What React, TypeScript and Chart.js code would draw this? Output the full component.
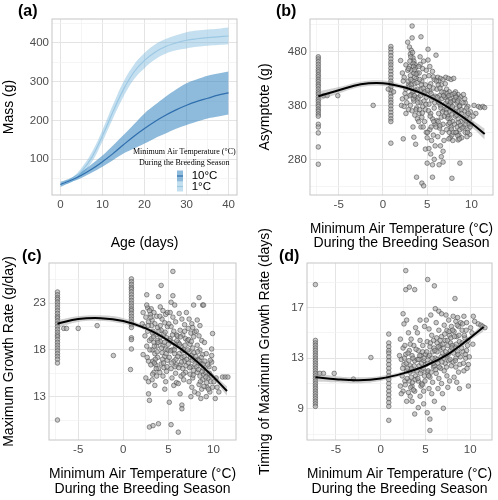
import React, { useEffect, useRef } from 'react';
import { Chart, registerables } from 'chart.js';

Chart.register(...registerables);

const SANS = '"Liberation Sans", Arial, Helvetica, sans-serif';
const SERIF = '"Liberation Serif", "Times New Roman", serif';

// ---------- Panel (a): growth curves ----------
const ageDays = [0, 2.5, 5, 7.5, 10, 12.5, 15, 17.5, 20, 22.5, 25, 27.5, 30, 32.5, 35, 37.5, 40];
const mass1C = [34, 45, 68, 105, 160, 222, 280, 325, 355, 376, 391, 400, 407, 411, 414, 416, 418];
const mass1CLo = [31, 40, 58, 92, 145, 205, 261, 306, 335, 357, 372, 381, 386, 390, 393, 395, 397];
const mass1CHi = [37, 50, 77, 118, 175, 240, 300, 344, 374, 396, 410, 420, 428, 432, 435, 437, 440];
const mass10C = [34, 45, 58, 74, 93, 114, 137, 159, 179, 197, 213, 227, 239, 249, 257, 265, 271];
const mass10CLo = [28, 40, 51, 65, 80, 97, 114, 127, 140, 154, 166, 178, 188, 197, 205, 210, 215];
const mass10CHi = [41, 51, 67, 87, 109, 135, 162, 190, 218, 240, 261, 280, 296, 306, 315, 321, 326];
const legendTitle = ['Minimum Air Temperature (\u00B0C)', 'During the Breeding Season'];
const legendLabels = ['10\u00B0C', '1\u00B0C'];

// ---------- Shared temperature info ----------
const coldSiteTemp = -7.3;
const mildSiteTemp = 0.9;
const fitTemps = [-7.3, -5, -2.5, 0, 2.5, 5, 7.5, 10, 11.5];
const tempTitle = ['Minimum Air Temperature (\u00B0C)', 'During the Breeding Season'];

// ---------- Panel (b): asymptote ----------
const asymColdSite = [470, 466, 461, 456, 451, 446, 442, 437, 433, 428, 424, 419, 415, 410, 405, 401, 396, 391, 387, 382, 378, 373, 369, 364, 360, 345, 340, 329, 303, 271];
const asymMildSite = [489, 484, 478, 472, 466, 460, 455, 449, 443, 437, 431, 425, 420, 414, 408, 402, 396, 390, 385, 379, 373, 367, 361, 355, 350, 310];
const asymOther: [number, number][] = [
  [-6.7, 398], [-6.3, 398], [-5.1, 398], [-1.1, 380], [0.6, 410], [1.2, 405],
  [2.0, 463], [2.1, 380], [2.2, 440], [2.4, 432], [2.3, 425], [2.6, 410], [2.5, 402], [2.2, 392], [2.7, 385], [2.4, 378], [2.9, 372], [2.6, 365], [2.3, 318], [2.8, 445], [2.9, 418],
  [3.3, 527], [3.3, 505], [2.8, 497], [3.0, 488], [3.2, 482], [3.1, 475], [3.4, 468], [3.5, 462], [3.6, 456], [3.7, 450], [3.2, 445], [3.5, 440], [3.1, 435], [3.8, 430], [3.3, 425], [3.6, 420], [3.0, 415], [3.9, 410], [3.4, 405], [3.2, 400], [3.7, 395], [3.5, 388], [3.1, 380], [3.8, 375], [3.3, 370], [3.6, 362], [3.9, 355], [3.4, 340], [3.5, 321], [3.7, 308], [3.8, 247], [3.0, 452], [3.4, 458], [3.6, 432], [3.2, 418], [3.9, 440],
  [4.3, 507], [4.2, 470], [4.2, 456], [4.5, 448], [4.1, 440], [4.7, 433], [4.4, 425], [4.8, 418], [4.3, 410], [4.6, 402], [4.9, 395], [4.2, 386], [4.5, 378], [4.8, 372], [4.1, 365], [4.4, 358], [4.7, 350], [4.3, 340], [4.9, 330], [5.0, 320], [4.8, 299], [5.0, 273], [4.4, 236], [4.6, 231], [4.0, 395], [4.6, 462], [4.9, 445],
  [5.1, 484], [5.1, 464], [5.3, 452], [5.6, 443], [5.2, 435], [5.8, 428], [5.4, 420], [5.7, 412], [5.3, 405], [5.9, 397], [5.5, 390], [5.2, 382], [5.8, 375], [5.4, 365], [5.6, 355], [5.9, 345], [5.3, 335], [5.7, 325], [5.5, 315], [5.9, 305], [5.4, 290], [5.8, 280], [5.6, 270], [5.6, 247], [5.2, 300], [5.7, 433],
  [6.0, 473], [6.2, 432], [6.5, 430], [6.8, 428], [6.3, 425], [6.6, 418], [6.1, 410], [6.9, 404], [6.4, 398], [6.7, 393], [6.2, 388], [6.5, 380], [6.9, 372], [6.3, 365], [6.6, 358], [6.1, 352], [6.8, 345], [6.4, 338], [6.7, 330], [6.2, 322], [6.9, 315], [6.5, 305], [6.8, 295], [6.6, 285], [6.8, 275], [6.35, 270], [6.0, 340],
  [7.1, 432], [7.4, 430], [7.7, 428], [7.2, 410], [7.5, 405], [7.8, 400], [7.3, 396], [7.6, 392], [7.9, 388], [7.1, 384], [7.4, 380], [7.7, 376], [7.2, 372], [7.5, 368], [7.8, 364], [7.3, 360], [7.6, 355], [7.9, 350], [7.4, 345], [7.7, 340], [7.2, 335], [7.5, 330], [7.8, 325], [7.6, 320], [7.9, 315], [7.8, 245], [7.0, 395], [7.3, 388], [7.6, 382],
  [8.0, 430], [8.2, 405], [8.5, 400], [8.8, 396], [8.1, 390], [8.4, 385], [8.7, 380], [8.3, 375], [8.6, 370], [8.9, 365], [8.2, 360], [8.5, 355], [8.8, 350], [8.1, 345], [8.4, 340], [8.7, 335], [8.3, 330], [8.6, 325], [8.9, 320], [8.5, 316], [8.7, 273], [8.2, 398], [8.6, 392],
  [9.1, 400], [9.3, 385], [9.6, 378], [9.2, 370], [9.5, 362], [9.8, 355], [9.4, 350], [9.7, 345], [9.1, 340], [9.6, 335], [9.3, 330], [9.8, 326], [9.5, 322],
  [10.3, 380], [10.8, 378], [11.0, 376], [11.3, 378], [11.5, 376], [9.9, 368], [10.5, 365], [10.2, 360], [10.0, 345],
  [2.6, 455], [2.9, 448], [3.05, 462], [3.15, 470], [3.35, 478], [3.45, 452], [3.55, 446], [3.75, 438], [3.85, 422], [3.25, 412], [3.65, 408], [3.05, 398], [3.45, 392], [3.95, 385], [2.85, 425], [2.65, 395], [3.15, 428], [3.55, 398], [3.75, 372],
  [4.05, 452], [4.15, 428], [4.35, 418], [4.55, 412], [4.75, 405], [4.25, 398], [4.65, 388], [4.85, 382], [4.15, 372], [4.45, 366], [4.05, 350], [4.55, 340],
  [5.05, 408], [5.25, 415], [5.45, 402], [5.65, 395], [5.85, 385], [5.15, 370], [5.35, 360], [5.75, 350], [5.45, 340], [5.05, 330],
  [6.05, 425], [6.25, 418], [6.45, 412], [6.65, 405], [6.85, 398], [6.15, 395], [6.35, 385], [6.55, 375], [6.75, 368], [6.95, 360], [6.25, 350], [6.45, 342],
  [7.05, 420], [7.25, 402], [7.45, 398], [7.65, 386], [7.85, 378], [7.15, 366], [7.35, 356], [7.55, 348], [7.75, 336], [7.95, 330], [7.45, 318],
  [8.05, 402], [8.25, 395], [8.45, 388], [8.65, 378], [8.85, 372], [8.15, 368], [8.35, 362], [8.55, 348], [8.75, 343], [8.95, 338], [8.25, 330], [8.45, 324], [8.65, 318],
  [9.05, 385], [9.25, 392], [9.45, 375], [9.65, 365], [9.85, 340], [9.15, 355], [9.35, 345], [9.55, 330],
];
const asymFit = [397, 408, 419, 421, 413, 398, 375, 347, 327];
const asymFitLo = [388, 402, 414, 416, 409, 394, 370, 340, 317];
const asymFitHi = [406, 414, 424, 426, 417, 402, 380, 354, 337];

// ---------- Panel (c): maximum growth rate ----------
const growthColdSite = [24.2, 23.9, 23.6, 23.4, 23.1, 22.8, 22.5, 22.2, 21.9, 21.6, 21.4, 21.1, 20.8, 20.5, 20.2, 19.9, 19.6, 19.4, 19.1, 18.8, 18.5, 18.2, 17.9, 17.6, 17.3, 17.0, 16.6, 10.5];
const growthMildSite = [25.6, 25.3, 25.0, 24.7, 24.5, 24.2, 23.9, 23.6, 23.3, 23.0, 22.7, 22.4, 22.2, 21.9, 21.6, 21.3, 21.0, 20.7, 20.4, 19.3, 19.1, 18.1];
const growthOther: [number, number][] = [
  [-6.6, 20.3], [-6.3, 20.3], [-5.0, 20.3], [-2.9, 20.6], [-1.1, 17.4], [0.8, 15.9],
  [2.6, 23.9], [2.2, 22.0], [2.5, 21.5], [2.8, 21.0], [2.3, 20.5], [2.7, 20.0], [2.4, 19.5], [2.9, 19.0], [2.6, 18.4], [2.2, 17.5], [2.8, 16.8], [2.5, 15.0], [2.8, 14.6], [2.8, 13.3], [2.9, 12.6], [2.9, 9.75], [2.1, 20.8], [2.7, 22.5],
  [3.3, 9.9], [3.9, 10.1], [3.9, 23.7], [3.1, 22.4], [3.4, 22.0], [3.7, 21.6], [3.2, 21.2], [3.5, 20.8], [3.8, 20.4], [3.3, 20.0], [3.6, 19.6], [3.1, 19.2], [3.4, 18.8], [3.7, 18.4], [3.2, 18.0], [3.5, 17.6], [3.8, 17.2], [3.3, 16.8], [3.6, 16.4], [3.9, 16.0], [3.4, 15.6], [3.7, 15.2], [3.2, 14.8], [3.5, 14.2], [3.0, 21.8], [3.8, 19.0],
  [4.2, 24.9], [4.1, 22.6], [4.4, 22.2], [4.7, 21.8], [4.3, 21.3], [4.6, 20.9], [4.9, 20.5], [4.2, 20.1], [4.5, 19.7], [4.8, 19.3], [4.1, 18.9], [4.4, 18.5], [4.7, 18.1], [4.3, 17.7], [4.6, 17.3], [4.9, 16.9], [4.2, 16.5], [4.5, 16.1], [4.8, 15.7], [4.4, 15.2], [4.7, 14.6], [4.6, 13.8], [4.1, 20.6], [4.9, 22.0],
  [5.5, 26.4], [5.5, 23.8], [5.3, 23.1], [5.7, 22.8], [5.1, 12.4], [5.3, 10.0], [5.2, 22.0], [5.5, 21.5], [5.8, 21.0], [5.3, 20.5], [5.6, 20.0], [5.9, 19.6], [5.2, 19.2], [5.5, 18.8], [5.8, 18.4], [5.4, 18.0], [5.7, 17.6], [5.1, 17.2], [5.6, 16.8], [5.9, 16.4], [5.3, 16.0], [5.8, 15.5], [5.6, 14.2], [5.4, 15.0], [5.9, 14.5], [5.0, 18.6],
  [6.1, 9.2], [6.3, 13.3], [6.5, 12.1], [6.5, 11.7], [6.2, 21.9], [6.5, 21.3], [6.8, 20.7], [6.3, 20.1], [6.6, 19.6], [6.9, 19.2], [6.1, 18.8], [6.4, 18.4], [6.7, 18.0], [6.2, 17.6], [6.5, 17.2], [6.8, 16.8], [6.3, 16.4], [6.6, 16.0], [6.9, 15.6], [6.4, 15.2], [6.7, 14.8], [6.1, 14.4], [6.8, 20.0], [6.0, 19.5],
  [7.8, 22.8], [7.0, 22.0], [7.3, 21.3], [7.6, 20.8], [7.2, 20.3], [7.5, 19.8], [7.8, 19.4], [7.1, 19.0], [7.4, 18.6], [7.7, 18.2], [7.3, 17.8], [7.6, 17.4], [7.9, 17.0], [7.2, 16.6], [7.5, 16.2], [7.8, 15.8], [7.4, 15.4], [7.7, 15.0], [7.3, 14.6], [7.6, 14.0], [7.9, 13.5], [7.5, 13.0], [7.9, 19.9], [7.7, 20.4],
  [8.4, 23.6], [8.8, 22.8], [8.9, 22.8], [8.2, 21.2], [8.5, 20.6], [8.1, 20.0], [8.4, 19.5], [8.7, 19.0], [8.2, 18.5], [8.5, 18.0], [8.8, 17.5], [8.3, 17.0], [8.6, 16.5], [8.9, 16.0], [8.2, 15.6], [8.5, 15.2], [8.8, 14.8], [8.4, 14.3], [8.7, 13.8], [8.3, 13.3], [8.6, 12.8], [8.9, 15.4],
  [9.9, 19.75], [9.8, 18.1], [9.8, 17.4], [9.8, 16.7], [9.2, 17.6], [9.5, 16.2], [9.1, 15.6], [9.4, 15.0], [9.7, 14.6], [9.3, 14.0], [9.6, 13.5], [10.2, 12.8], [9.2, 13.0], [9.0, 18.8],
  [11.0, 15.1], [11.3, 15.1], [11.6, 15.1], [10.3, 15.0], [10.6, 13.5], [10.1, 16.0],
  [2.6, 22.8], [2.9, 22.2], [3.05, 21.5], [3.15, 20.6], [3.25, 19.8], [3.35, 19.4], [3.45, 18.4], [3.55, 17.0], [3.65, 16.0], [3.75, 17.8], [3.85, 18.8], [3.95, 20.0], [2.75, 20.6], [2.95, 18.0], [2.65, 17.2], [3.05, 16.4], [3.25, 15.4], [3.45, 16.6],
  [4.05, 21.6], [4.15, 19.4], [4.25, 18.2], [4.35, 17.0], [4.45, 16.6], [4.55, 18.8], [4.65, 19.9], [4.75, 17.6], [4.85, 16.2], [4.95, 18.0], [4.05, 15.6],
  [5.05, 20.8], [5.15, 19.0], [5.25, 17.9], [5.35, 16.6], [5.45, 19.6], [5.65, 18.0], [5.75, 16.2], [5.85, 17.0], [5.95, 19.0],
  [6.05, 17.3], [6.15, 16.1], [6.25, 18.6], [6.35, 19.4], [6.45, 16.7], [6.55, 17.9], [6.65, 15.4], [6.75, 17.3], [6.85, 18.5], [6.95, 16.3],
  [7.05, 17.0], [7.15, 18.0], [7.25, 19.1], [7.35, 16.1], [7.45, 17.2], [7.55, 18.9], [7.65, 16.9], [7.75, 15.3], [7.85, 17.7], [7.95, 16.4],
  [8.05, 17.3], [8.15, 16.2], [8.25, 17.8], [8.35, 15.9], [8.45, 16.9], [8.55, 14.6], [8.65, 17.2], [8.75, 15.7], [8.85, 16.5], [8.95, 14.1],
  [9.05, 16.8], [9.15, 15.1], [9.25, 14.5], [9.35, 16.4], [9.45, 13.8], [9.55, 15.5], [9.65, 16.9], [9.75, 15.2], [9.9, 14.0], [10.05, 14.6], [10.4, 14.0],
];
const growthFit = [20.8, 21.3, 21.4, 21.1, 20.3, 19.0, 17.3, 15.1, 13.6];
const growthFitLo = [20.4, 21.0, 21.1, 20.8, 20.1, 18.8, 17.1, 14.8, 13.1];
const growthFitHi = [21.2, 21.6, 21.7, 21.4, 20.5, 19.2, 17.5, 15.4, 14.1];

// ---------- Panel (d): timing of maximum growth rate ----------
const timingColdSite = [18.8, 14.4, 14.2, 14.0, 13.8, 13.6, 13.4, 13.2, 13.0, 12.8, 12.6, 12.4, 12.2, 12.0, 11.8, 11.6, 11.4, 11.2, 11.0, 10.8, 10.6, 10.4, 10.2, 10.0, 9.8, 9.6, 9.4, 9.2];
const timingMildSite = [14.9, 14.2, 13.9, 13.6, 13.4, 13.1, 12.8, 12.5, 12.2, 11.9, 11.6, 11.3, 11.0, 10.7, 10.4, 10.1, 9.8, 9.5, 9.2, 8.1];
const timingOther: [number, number][] = [
  [-6.8, 11.8], [-6.4, 11.8], [-5.2, 11.8], [-3.05, 11.35], [-1.1, 13.05],
  [2.8, 19.9], [2.8, 18.4], [2.5, 16.5], [2.9, 16.0], [2.6, 15.7], [2.2, 14.5], [2.5, 13.8], [2.8, 13.3], [2.3, 12.9], [2.6, 12.5], [2.9, 12.0], [2.4, 11.6], [2.7, 11.2], [2.2, 10.8], [2.5, 10.4], [2.3, 10.2], [2.9, 9.6], [2.1, 13.2], [2.7, 14.0],
  [3.2, 18.6], [3.8, 18.4], [3.5, 9.6], [3.8, 8.6], [3.1, 15.0], [3.4, 14.5], [3.7, 14.0], [3.2, 13.6], [3.5, 13.2], [3.8, 12.8], [3.3, 12.4], [3.6, 12.0], [3.9, 11.6], [3.2, 11.2], [3.5, 10.8], [3.8, 10.4], [3.3, 10.0], [3.6, 13.0], [3.0, 12.2], [3.9, 15.4], [3.4, 11.5],
  [4.2, 9.1], [4.8, 9.4], [4.4, 16.0], [4.1, 15.0], [4.4, 14.4], [4.7, 14.0], [4.2, 13.6], [4.5, 13.2], [4.8, 12.8], [4.3, 12.4], [4.6, 12.0], [4.9, 11.6], [4.2, 11.2], [4.5, 10.8], [4.8, 10.4], [4.4, 10.0], [4.7, 13.5], [4.1, 12.9], [4.9, 15.5], [4.6, 11.0],
  [5.25, 19.2], [5.2, 8.7], [5.5, 8.2], [5.5, 7.3], [5.1, 16.0], [5.4, 15.3], [5.7, 14.8], [5.2, 14.3], [5.5, 13.9], [5.8, 13.5], [5.3, 13.1], [5.6, 12.7], [5.9, 12.3], [5.2, 11.9], [5.5, 11.5], [5.8, 11.1], [5.4, 10.6], [5.7, 10.2], [5.3, 12.0], [5.9, 14.4], [5.0, 13.3], [5.6, 16.4],
  [6.0, 18.7], [6.1, 16.9], [6.5, 16.7], [6.8, 16.5], [7.0, 9.05], [6.0, 9.6], [6.2, 15.8], [6.5, 15.2], [6.8, 14.7], [6.3, 14.2], [6.6, 13.8], [6.9, 13.4], [6.1, 13.0], [6.4, 12.6], [6.7, 12.2], [6.2, 11.8], [6.5, 11.4], [6.8, 11.0], [6.4, 10.6], [6.9, 10.2], [6.3, 13.5], [6.7, 14.0], [6.0, 12.4],
  [7.3, 16.4], [7.6, 16.0], [7.1, 15.6], [7.4, 15.2], [7.7, 14.8], [7.2, 14.4], [7.5, 14.0], [7.8, 13.6], [7.3, 13.2], [7.6, 12.8], [7.9, 12.4], [7.1, 12.0], [7.4, 11.6], [7.7, 11.2], [7.5, 10.7], [7.9, 15.5], [7.0, 13.8], [7.8, 14.2], [7.2, 12.6],
  [8.3, 17.7], [8.1, 16.3], [8.4, 15.9], [8.7, 15.5], [8.2, 15.1], [8.5, 14.7], [8.8, 14.3], [8.3, 13.9], [8.6, 13.5], [8.9, 13.1], [8.1, 12.7], [8.4, 12.3], [8.7, 11.9], [8.2, 11.5], [8.5, 11.1], [8.8, 10.6], [8.0, 14.0], [8.6, 16.2], [8.4, 13.0],
  [9.3, 16.3], [9.6, 15.8], [9.1, 15.2], [9.4, 14.6], [9.7, 14.0], [9.2, 13.5], [9.5, 13.0], [9.8, 12.5], [9.3, 12.0], [9.8, 10.8], [9.6, 13.6], [9.1, 14.2],
  [10.35, 16.3], [10.9, 15.7], [11.2, 15.6], [11.4, 15.5], [11.65, 15.4], [10.5, 15.9], [10.2, 15.0],
  [2.65, 13.0], [2.85, 12.6], [2.95, 11.4], [3.05, 13.4], [3.15, 12.8], [3.25, 11.9], [3.35, 10.7], [3.45, 12.2], [3.55, 11.1], [3.65, 10.5], [3.75, 12.4], [3.85, 11.3], [3.95, 13.7], [3.1, 10.3], [3.3, 14.1], [2.45, 12.2], [2.75, 10.9],
  [4.05, 12.0], [4.15, 11.4], [4.25, 12.9], [4.35, 13.2], [4.45, 11.8], [4.55, 12.6], [4.65, 10.9], [4.75, 12.2], [4.85, 13.0], [4.95, 11.2],
  [5.05, 12.5], [5.15, 13.5], [5.25, 12.6], [5.35, 11.6], [5.45, 13.2], [5.55, 14.2], [5.65, 11.9], [5.75, 13.0], [5.85, 12.6], [5.95, 13.8],
  [6.05, 13.6], [6.15, 12.1], [6.25, 14.6], [6.35, 12.9], [6.45, 13.9], [6.55, 12.3], [6.65, 14.4], [6.75, 13.1], [6.85, 12.7], [6.95, 14.1],
  [7.05, 13.0], [7.15, 14.9], [7.25, 13.5], [7.35, 12.3], [7.45, 14.4], [7.55, 13.3], [7.65, 15.1], [7.75, 12.9], [7.85, 14.6], [7.95, 13.8],
  [8.05, 15.2], [8.15, 13.4], [8.25, 14.7], [8.35, 12.8], [8.45, 14.1], [8.55, 15.6], [8.65, 13.3], [8.75, 14.8], [8.85, 12.5], [8.95, 15.8],
  [9.05, 13.8], [9.15, 15.7], [9.25, 12.6], [9.35, 14.8], [9.45, 13.3], [9.55, 15.2], [9.65, 12.2], [9.75, 14.4], [9.9, 13.1], [10.05, 15.4], [10.3, 14.1],
];
const timingFit = [11.5, 11.34, 11.26, 11.4, 11.8, 12.4, 13.3, 14.6, 15.45];
const timingFitLo = [11.15, 11.1, 11.02, 11.2, 11.65, 12.27, 13.15, 14.4, 15.1];
const timingFitHi = [11.85, 11.58, 11.5, 11.6, 11.95, 12.53, 13.45, 14.8, 15.8];

// ---------- helpers ----------
const PAGE_W = 498;
const PAGE_H = 500;
const TITLE_SIZE = 14;
const TITLE_LH = 1.04;
const HALF_TITLE = (TITLE_SIZE * TITLE_LH) / 2;

const line = (xs: number[], ys: number[]) => xs.map((x, i) => ({ x, y: ys[i] }));
const column = (x: number, ys: number[]) => ys.map((y) => ({ x, y }));
const pairs = (p: [number, number][]) => p.map(([x, y]) => ({ x, y }));

interface AxisSpec {
  min: number;
  max: number;
  major: number[];
  minor: number[];
  title: string | string[];
}

interface PanelSpec {
  label: string;
  labelX: number;
  labelY: number;
  box: { L: number; T: number; R: number; B: number };
  yTitleX: number;
  xTitleLastY: number;
  x: AxisSpec;
  y: AxisSpec;
  datasets: any[];
  extraPlugins?: any[];
}

function makeAxis(spec: AxisSpec, horizontal: boolean, size: number) {
  const isMajor = (v: number) => spec.major.some((m) => Math.abs(m - v) < 1e-6);
  return {
    type: 'linear',
    min: spec.min,
    max: spec.max,
    afterBuildTicks: (s: any) => {
      s.ticks = [...spec.major, ...spec.minor].sort((a, b) => a - b).map((v) => ({ value: v }));
    },
    afterFit: (s: any) => {
      if (horizontal) s.height = size;
      else s.width = size;
    },
    grid: {
      color: (c: any) => (c.tick && isMajor(c.tick.value) ? '#e4e4e4' : '#f1f1f1'),
      lineWidth: (c: any) => (c.tick && isMajor(c.tick.value) ? 1 : 0.7),
      drawTicks: false,
    },
    border: { display: false },
    ticks: {
      autoSkip: false,
      maxRotation: 0,
      minRotation: 0,
      padding: 3,
      color: '#4d4d4d',
      font: { family: SANS, size: 11.5 },
      callback: (v: number) => (isMajor(v) ? String(v) : ''),
    },
    title: {
      display: true,
      text: spec.title,
      color: '#000',
      font: { family: SANS, size: TITLE_SIZE, lineHeight: TITLE_LH },
      padding: 0,
    },
  };
}

function fitDatasets(fit: number[], lo: number[], hi: number[]) {
  return [
    { data: line(fitTemps, lo), borderWidth: 0, pointRadius: 0, fill: false, tension: 0.4, order: 2 },
    {
      data: line(fitTemps, hi),
      borderWidth: 0,
      pointRadius: 0,
      fill: '-1',
      backgroundColor: 'rgba(153,153,153,0.45)',
      tension: 0.4,
      order: 2,
    },
    { data: line(fitTemps, fit), borderColor: '#000', borderWidth: 2, pointRadius: 0, fill: false, tension: 0.4, order: 0 },
  ];
}

function pointDataset(cold: number[], mild: number[], other: [number, number][]) {
  return {
    data: [...column(coldSiteTemp, cold), ...column(mildSiteTemp, mild), ...pairs(other)],
    showLine: false,
    pointRadius: 2.3,
    pointBackgroundColor: 'rgba(165,165,165,0.6)',
    pointBorderColor: 'rgba(70,70,70,0.8)',
    pointBorderWidth: 0.7,
    order: 3,
  };
}

const massLegendPlugin = {
  id: 'massLegend',
  afterDraw(chart: any) {
    const { ctx, chartArea } = chart;
    const { right, bottom } = chartArea;
    ctx.save();
    ctx.fillStyle = '#000';
    ctx.textAlign = 'center';
    ctx.textBaseline = 'middle';
    ctx.font = `8px ${SERIF}`;
    ctx.fillText(legendTitle[0], right - 52.7, bottom - 42.7);
    ctx.fillText(legendTitle[1], right - 52.7, bottom - 32.3);
    const keys = [
      { fill: 'rgba(49,130,189,0.55)', stroke: '#2f6fae', top: bottom - 24.5, h: 11 },
      { fill: 'rgba(107,174,214,0.4)', stroke: '#9ecae1', top: bottom - 13.5, h: 10 },
    ];
    keys.forEach((k, i) => {
      ctx.fillStyle = k.fill;
      ctx.fillRect(right - 60, k.top, 6, k.h);
      ctx.strokeStyle = k.stroke;
      ctx.lineWidth = 1.2;
      ctx.beginPath();
      ctx.moveTo(right - 60, k.top + k.h / 2);
      ctx.lineTo(right - 54, k.top + k.h / 2);
      ctx.stroke();
      ctx.fillStyle = '#000';
      ctx.textAlign = 'left';
      ctx.font = `11.5px ${SANS}`;
      ctx.fillText(legendLabels[i], right - 45.3, k.top + k.h / 2);
    });
    ctx.restore();
  },
};

const tempAxis = (title: string | string[]): AxisSpec => ({
  min: -8.24,
  max: 12.44,
  major: [-5, 0, 5, 10],
  minor: [-7.5, -2.5, 2.5, 7.5],
  title,
});

const panels: PanelSpec[] = [
  {
    label: '(a)',
    labelX: 18,
    labelY: 12,
    box: { L: 52, T: 19, R: 237, B: 195 },
    yTitleX: 9,
    xTitleLastY: 243.5,
    x: { min: -2, max: 42, major: [0, 10, 20, 30, 40], minor: [5, 15, 25, 35], title: 'Age (days)' },
    y: { min: 7, max: 462, major: [100, 200, 300, 400], minor: [50, 150, 250, 350, 450], title: 'Mass (g)' },
    datasets: [
      { data: line(ageDays, mass1CLo), borderWidth: 0, pointRadius: 0, fill: false, tension: 0.4, order: 4 },
      { data: line(ageDays, mass1CHi), borderWidth: 0, pointRadius: 0, fill: '-1', backgroundColor: 'rgba(107,174,214,0.4)', tension: 0.4, order: 4 },
      { data: line(ageDays, mass10CLo), borderWidth: 0, pointRadius: 0, fill: false, tension: 0.4, order: 3 },
      { data: line(ageDays, mass10CHi), borderWidth: 0, pointRadius: 0, fill: '-1', backgroundColor: 'rgba(49,130,189,0.55)', tension: 0.4, order: 3 },
      { data: line(ageDays, mass1C), borderColor: '#9cc8e4', borderWidth: 1.2, pointRadius: 0, fill: false, tension: 0.4, order: 1 },
      { data: line(ageDays, mass10C), borderColor: '#2f6fae', borderWidth: 1.2, pointRadius: 0, fill: false, tension: 0.4, order: 0 },
    ],
    extraPlugins: [massLegendPlugin],
  },
  {
    label: '(b)',
    labelX: 276,
    labelY: 12,
    box: { L: 310, T: 19, R: 493, B: 195 },
    yTitleX: 265,
    xTitleLastY: 243.5,
    x: tempAxis(tempTitle),
    y: { min: 214, max: 540, major: [280, 380, 480], minor: [230, 330, 430, 530], title: 'Asymptote (g)' },
    datasets: [pointDataset(asymColdSite, asymMildSite, asymOther), ...fitDatasets(asymFit, asymFitLo, asymFitHi)],
  },
  {
    label: '(c)',
    labelX: 22,
    labelY: 257,
    box: { L: 49, T: 263, R: 236, B: 440 },
    yTitleX: 9,
    xTitleLastY: 489,
    x: { ...tempAxis(tempTitle), max: 12.5 },
    y: { min: 8.36, max: 27.3, major: [13, 18, 23], minor: [10.5, 15.5, 20.5, 25.5], title: 'Maximum Growth Rate (g/day)' },
    datasets: [pointDataset(growthColdSite, growthMildSite, growthOther), ...fitDatasets(growthFit, growthFitLo, growthFitHi)],
  },
  {
    label: '(d)',
    labelX: 279,
    labelY: 257,
    box: { L: 307, T: 263, R: 492, B: 440 },
    yTitleX: 265,
    xTitleLastY: 489,
    x: tempAxis(tempTitle),
    y: { min: 6.55, max: 20.5, major: [9, 13, 17], minor: [7, 11, 15, 19], title: 'Timing of Maximum Growth Rate (days)' },
    datasets: [pointDataset(timingColdSite, timingMildSite, timingOther), ...fitDatasets(timingFit, timingFitLo, timingFitHi)],
  },
];

function buildChart(canvas: HTMLCanvasElement, p: PanelSpec) {
  const padLeft = p.yTitleX - HALF_TITLE;
  const axisBottom = p.xTitleLastY + HALF_TITLE;
  const yWidth = p.box.L - padLeft;
  const xHeight = axisBottom - p.box.B;

  const framePlugin = {
    id: 'panelFrame',
    afterDatasetsDraw(chart: any) {
      const { ctx, chartArea: a } = chart;
      ctx.save();
      ctx.strokeStyle = '#c6c6c6';
      ctx.lineWidth = 1;
      ctx.strokeRect(a.left, a.top, a.right - a.left, a.bottom - a.top);
      ctx.restore();
    },
  };
  const labelPlugin = {
    id: 'panelLabel',
    afterDraw(chart: any) {
      const { ctx } = chart;
      ctx.save();
      ctx.fillStyle = '#000';
      ctx.font = `bold 16px ${SANS}`;
      ctx.textAlign = 'left';
      ctx.textBaseline = 'middle';
      ctx.fillText(p.label, p.labelX, p.labelY);
      ctx.restore();
    },
  };

  return new Chart(canvas, {
    type: 'line',
    data: { datasets: p.datasets },
    options: {
      responsive: false,
      animation: false,
      devicePixelRatio: 1,
      events: [],
      layout: {
        padding: {
          left: padLeft,
          top: p.box.T,
          right: PAGE_W - p.box.R,
          bottom: PAGE_H - axisBottom,
        },
      },
      plugins: { legend: { display: false }, tooltip: { enabled: false } },
      scales: {
        x: makeAxis(p.x, true, xHeight) as any,
        y: makeAxis(p.y, false, yWidth) as any,
      },
    },
    plugins: [framePlugin, labelPlugin, ...(p.extraPlugins || [])],
  } as any);
}

function Panel({ spec }: { spec: PanelSpec }) {
  const ref = useRef<HTMLCanvasElement | null>(null);
  useEffect(() => {
    if (!ref.current) return;
    const chart = buildChart(ref.current, spec);
    return () => chart.destroy();
  }, [spec]);
  return (
    <canvas
      ref={ref}
      width={PAGE_W}
      height={PAGE_H}
      style={{ position: 'absolute', left: 0, top: 0, width: PAGE_W, height: PAGE_H }}
    />
  );
}

export default function App() {
  return (
    <div
      style={{
        position: 'fixed',
        left: 0,
        top: 0,
        width: PAGE_W,
        height: PAGE_H,
        background: '#fff',
        overflow: 'hidden',
      }}
    >
      {panels.map((p) => (
        <Panel key={p.label} spec={p} />
      ))}
    </div>
  );
}
